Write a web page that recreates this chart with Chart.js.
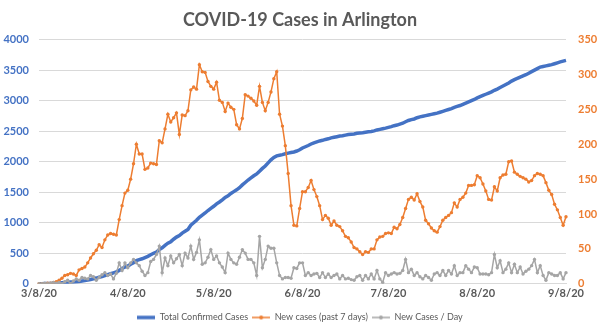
<!DOCTYPE html>
<html>
<head>
<meta charset="utf-8">
<script src="https://cdn.jsdelivr.net/npm/chart.js@4"></script>
<style>
html, body { margin: 0; padding: 0; background: #fff; }
</style>
</head>
<body>
<canvas id="covidChart" width="600" height="332"></canvas>
<script>
// DATA
const startDate = new Date(2020, 2, 8);
const dayCount = 185;
const tickLabels = ['3/8/20', '4/8/20', '5/8/20', '6/8/20', '7/8/20', '8/8/20', '9/8/20'];
const seriesNames = ['Total Confirmed Cases', 'New cases (past 7 days)', 'New Cases / Day'];

const totalCases = [
  1, 2, 3, 4, 6, 8, 10, 12, 16, 20,
  25, 28, 30, 32, 36, 45, 52, 60, 70, 82,
  94, 108, 118, 133, 148, 165, 180, 195, 220, 250,
  275, 290, 320, 345, 380, 395, 410, 430, 450, 475,
  500, 520, 560, 590, 630, 665, 690, 730, 765, 790,
  830, 860, 890, 960, 1000, 1040, 1090, 1125, 1160, 1200,
  1235, 1270, 1310, 1340, 1375, 1415, 1440, 1480, 1510, 1540,
  1575, 1620, 1660, 1700, 1735, 1770, 1800, 1845, 1890, 1930,
  1980, 2030, 2070, 2095, 2105, 2115, 2130, 2140, 2150, 2160,
  2175, 2195, 2225, 2245, 2265, 2290, 2310, 2325, 2340, 2350,
  2365, 2375, 2390, 2400, 2410, 2420, 2425, 2435, 2445, 2450,
  2455, 2465, 2470, 2475, 2482, 2490, 2495, 2505, 2520, 2530,
  2540, 2550, 2562, 2575, 2590, 2600, 2615, 2630, 2655, 2675,
  2690, 2700, 2720, 2735, 2745, 2755, 2765, 2775, 2785, 2795,
  2810, 2825, 2840, 2855, 2870, 2890, 2905, 2920, 2940, 2960,
  2980, 3000, 3020, 3045, 3065, 3085, 3105, 3125, 3145, 3170,
  3190, 3215, 3240, 3265, 3290, 3320, 3345, 3365, 3385, 3405,
  3425, 3450, 3475, 3500, 3525, 3550, 3560, 3570, 3580, 3590,
  3605, 3620, 3635, 3648, 3660
];

const weekCases = [
  0, 0, 0, 1, 1, 2, 3, 5, 8, 12,
  13, 15, 14, 12, 20, 22, 24, 30, 37, 43,
  48, 56, 52, 63, 70, 72, 71, 70, 92, 112,
  130, 134, 150, 172, 200, 186, 186, 164, 166, 173,
  172, 171, 205, 202, 222, 243, 232, 238, 245, 214,
  242, 241, 248, 278, 282, 279, 314, 304, 303, 290,
  283, 279, 289, 263, 260, 247, 259, 253, 250, 228,
  222, 237, 271, 269, 266, 262, 256, 283, 260, 248,
  260, 275, 294, 304, 243, 226, 198, 158, 112, 84,
  83, 108, 132, 132, 138, 148, 135, 125, 112, 92,
  98, 94, 84, 90, 84, 82, 76, 68, 66, 60,
  52, 50, 46, 42, 46, 45, 50, 50, 63, 67,
  68, 72, 73, 72, 81, 79, 85, 95, 108, 121,
  124, 120, 129, 118, 110, 91, 86, 80, 76, 74,
  82, 91, 95, 98, 102, 116, 110, 121, 124, 130,
  141, 141, 142, 155, 152, 143, 133, 121, 120, 139,
  133, 152, 156, 157, 175, 176, 160, 157, 154, 152,
  150, 146, 148, 155, 158, 157, 155, 145, 134, 128,
  114, 106, 95, 84, 96
];

const dailyCases = [
  0, 0, 1, 0, 1, 2, 1, 2, 0, 3,
  5, 0, 4, 7, 5, 9, 8, 7, 12, 10,
  5, 9, 13, 16, 12, 14, 7, 15, 30, 19,
  30, 23, 30, 35, 30, 26, 18, 12, 16, 32,
  35, 42, 54, 16, 37, 26, 40, 30, 36, 42,
  26, 44, 37, 54, 35, 45, 63, 28, 30, 38,
  49, 35, 40, 30, 24, 16, 44, 35, 30, 28,
  38, 49, 44, 35, 35, 30, 12, 68, 23, 35,
  54, 51, 51, 30, 12, 7, 9, 9, 8, 23,
  22, 30, 30, 12, 16, 12, 14, 15, 9, 16,
  9, 14, 9, 12, 14, 7, 12, 7, 8, 6,
  5, 10, 12, 5, 12, 7, 14, 7, 19, 7,
  2, 16, 12, 14, 16, 14, 15, 19, 35, 16,
  21, 12, 16, 10, 7, 12, 9, 5, 14, 16,
  12, 19, 12, 19, 14, 26, 12, 16, 16, 26,
  21, 16, 24, 23, 14, 14, 14, 13, 16, 42,
  23, 33, 16, 21, 30, 16, 28, 16, 24, 14,
  18, 21, 26, 35, 16, 26, 12, 5, 16, 14,
  12, 12, 16, 7, 16
];
// DATA

const FONT = 'Lato, "Open Sans", sans-serif';
const BLUE = '#4472C4';
const ORANGE = '#ED7D31';
const GREY = '#A5A5A5';

// one label per day, m/d/yy like excel
const days = [];
for (let i = 0; i < dayCount; i++) {
  const d = new Date(startDate.getFullYear(), startDate.getMonth(), startDate.getDate() + i);
  days.push((d.getMonth() + 1) + '/' + d.getDate() + '/' + String(d.getFullYear()).slice(2));
}

// legend icons: line, or line with a dot
function legendIcon(color, lineW, dot) {
  const c = document.createElement('canvas');
  c.width = 18;
  c.height = 8;
  const g = c.getContext('2d');
  g.strokeStyle = color;
  g.lineWidth = lineW;
  g.beginPath();
  g.moveTo(0, 4);
  g.lineTo(18, 4);
  g.stroke();
  if (dot) {
    g.fillStyle = color;
    g.beginPath();
    g.arc(9, 4, 2, 0, Math.PI * 2);
    g.fill();
  }
  return c;
}
const icons = [legendIcon(BLUE, 3.5, false), legendIcon(ORANGE, 1.5, true), legendIcon(GREY, 1.5, true)];

const config = {
  type: 'line',
  data: {
    labels: days,
    datasets: [{
      label: seriesNames[0],
      data: totalCases,
      borderColor: BLUE,
      backgroundColor: BLUE,
      borderWidth: 3.5,
      pointRadius: 0,
      yAxisID: 'y',
      order: 3
    }, {
      label: seriesNames[1],
      data: weekCases,
      borderColor: ORANGE,
      backgroundColor: ORANGE,
      borderWidth: 1.5,
      pointRadius: 1.7,
      pointBorderWidth: 0,
      yAxisID: 'y1',
      order: 2
    }, {
      label: seriesNames[2],
      data: dailyCases,
      borderColor: GREY,
      backgroundColor: GREY,
      borderWidth: 1.5,
      pointRadius: 1.7,
      pointBorderWidth: 0,
      yAxisID: 'y1',
      order: 1
    }]
  },
  options: {
    responsive: false,
    animation: false,
    layout: { padding: { left: 0, right: 0, top: 0, bottom: 0 } },
    plugins: {
      title: {
        display: true,
        text: 'COVID-19 Cases in Arlington',
        color: '#595959',
        font: { family: FONT, size: 18, weight: 'bold' },
        padding: { top: 9, bottom: 9 }
      },
      legend: {
        position: 'bottom',
        labels: {
          usePointStyle: true,
          pointStyleWidth: 18,
          color: '#595959',
          font: { family: FONT, size: 9 },
          padding: 4,
          sort: (a, b) => a.datasetIndex - b.datasetIndex,
          generateLabels(chart) {
            const items = Chart.defaults.plugins.legend.labels.generateLabels(chart);
            items.forEach(it => { it.pointStyle = icons[it.datasetIndex]; });
            return items;
          }
        }
      },
      tooltip: { enabled: false }
    },
    scales: {
      x: {
        grid: { display: false, drawTicks: false },
        border: { color: '#D9D9D9' },
        ticks: {
          autoSkip: false,
          maxRotation: 0,
          padding: 3,
          color: '#595959',
          font: { family: FONT, size: 11, weight: 'bold' },
          callback: function(v) {
            const l = this.getLabelForValue(v);
            return tickLabels.includes(l) ? l : '';
          }
        },
        afterFit(s) { s.height += 6; }
      },
      y: {
        position: 'left',
        min: 0,
        max: 4000,
        grid: { color: '#D9D9D9', drawTicks: false },
        border: { display: false },
        ticks: {
          stepSize: 500,
          padding: 10,
          color: BLUE,
          font: { family: FONT, size: 11, weight: 'bold' },
          callback: v => String(v)
        },
        afterFit(s) { s.width = 39; }
      },
      y1: {
        position: 'right',
        min: 0,
        max: 350,
        grid: { display: false, drawTicks: false },
        border: { display: false },
        ticks: {
          stepSize: 50,
          padding: 12,
          color: ORANGE,
          font: { family: FONT, size: 11, weight: 'bold' },
          callback: v => String(v)
        },
        afterFit(s) { s.width = 34; }
      }
    }
  }
};

const covidChart = new Chart(document.getElementById('covidChart'), config);
</script>
</body>
</html>
